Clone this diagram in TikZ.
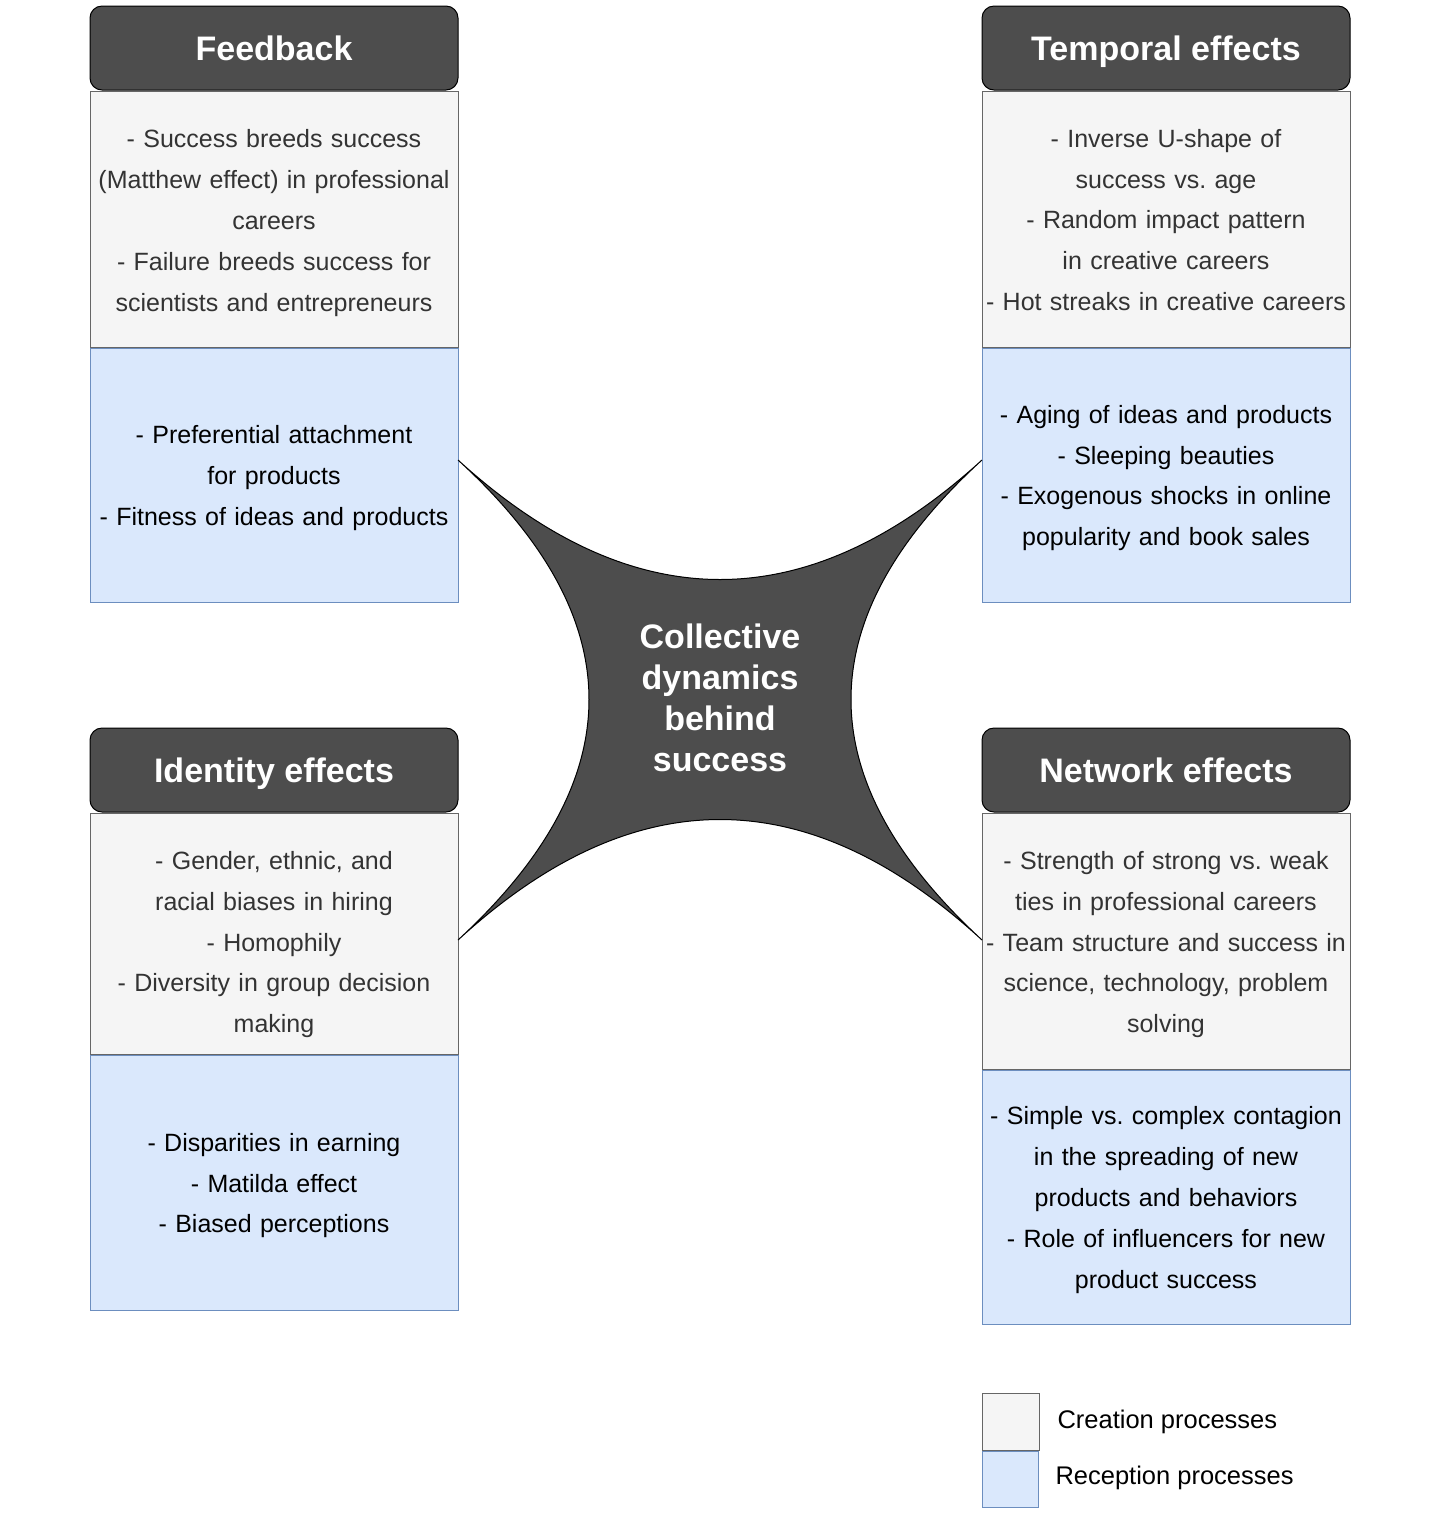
\documentclass[tikz,border=0pt]{standalone}
\usepackage{fontspec}
\setmainfont{Liberation Sans}
\usepackage{tikz}
\usetikzlibrary{positioning, calc}
\frenchspacing
\definecolor{headgrey}{HTML}{4D4D4D}
\definecolor{creafill}{HTML}{F5F5F5}
\definecolor{creaedge}{HTML}{666666}
\definecolor{creatext}{HTML}{333333}
\definecolor{recfill}{HTML}{DAE8FC}
\definecolor{recedge}{HTML}{6C8EBF}
\tikzset{
    headbox/.style={
        rectangle,
        rounded corners=6pt,
        draw=black,
        fill=headgrey,
        text=white,
        minimum width=184pt,
        minimum height=42pt,
        inner sep=0pt,
        text height=12.2pt,
        text depth=0pt,
        font=\fontsize{17}{20}\selectfont\bfseries
    },
    creabox/.style={
        rectangle,
        draw=creaedge,
        fill=creafill,
        text=creatext,
        text width=184pt,
        minimum width=184pt,
        inner sep=0pt,
        align=center,
        font=\fontsize{12.5}{20.4}\selectfont
    },
    recbox/.style={
        creabox,
        draw=recedge,
        fill=recfill,
        text=black,
        lowered=12.1pt
    },
    lowered/.style={
        execute at begin node={\rule{0pt}{#1}}
    },
    legtext/.style={
        anchor=west,
        inner sep=0pt,
        font=\fontsize{12.75}{15}\selectfont
    }
}

\begin{document}
\begin{tikzpicture}[x=0.5pt, y=-0.5pt, line width=0.5pt]
        \useasboundingbox (0,0) rectangle (1441,1528);

        % Feedback
        \node[headbox] (fbhead) at (274,48) {Feedback};
        \node[creabox, minimum height=128pt, below=0pt of fbhead, lowered=13.1pt] (fbcrea) {- Success breeds success\\(Matthew effect) in professional\\careers\\- Failure breeds success for\\scientists and entrepreneurs};
        \node[recbox, minimum height=127pt, below=0pt of fbcrea] (fbrec) {- Preferential attachment\\for products\\- Fitness of ideas and products};

        % Temporal effects
        \node[headbox] (tmhead) at (1166,48) {Temporal effects};
        \node[creabox, minimum height=128pt, below=0pt of tmhead, lowered=10.1pt] (tmcrea) {- Inverse U-shape of\\success vs. age\\- Random impact pattern\\in creative careers\\- Hot streaks in creative careers};
        \node[recbox, minimum height=127pt, below=0pt of tmcrea] (tmrec) {- Aging of ideas and products\\- Sleeping beauties\\- Exogenous shocks in online\\popularity and book sales};

        % Identity effects
        \node[headbox] (idhead) at (274,770) {Identity effects};
        \node[creabox, minimum height=120.5pt, below=0pt of idhead, lowered=20.1pt] (idcrea) {- Gender, ethnic, and\\racial biases in hiring\\- Homophily\\- Diversity in group decision\\making};
        \node[recbox, minimum height=127.5pt, below=0pt of idcrea] (idrec) {- Disparities in earning\\- Matilda effect\\- Biased perceptions};

        % Network effects
        \node[headbox] (nwhead) at (1166,770) {Network effects};
        \node[creabox, minimum height=128pt, below=0pt of nwhead, lowered=12.6pt] (nwcrea) {- Strength of strong vs. weak\\ties in professional careers\\- Team structure and success in\\science, technology, problem\\solving};
        \node[recbox, minimum height=127pt, below=0pt of nwcrea] (nwrec) {- Simple vs. complex contagion\\in the spreading of new\\products and behaviors\\- Role of influencers for new\\product success};

        % Centre
        \coordinate (tl) at (458,460);
        \coordinate (tr) at (982,460);
        \coordinate (bl) at (458,940);
        \coordinate (br) at (982,940);
        \coordinate (mid) at (720,699);
        \draw[fill=headgrey] (tl) .. controls ($(tl)!2/3!(mid)$) and ($(tr)!2/3!(mid)$) .. (tr)
            .. controls ($(tr)!2/3!(mid)$) and ($(br)!2/3!(mid)$) .. (br)
            .. controls ($(br)!2/3!(mid)$) and ($(bl)!2/3!(mid)$) .. (bl)
            .. controls ($(bl)!2/3!(mid)$) and ($(tl)!2/3!(mid)$) .. (tl) -- cycle;
        \node[text=white, align=center, font=\fontsize{17}{20.5}\selectfont\bfseries] (centre) at (720,698) {Collective\\dynamics\\behind\\success};

        % Legend
        \node[rectangle, draw=creaedge, fill=creafill, minimum size=28.5pt, inner sep=0pt] (legcrea) at (1010.5,1421.5) {};
        \node[rectangle, draw=recedge, fill=recfill, minimum size=28pt, inner sep=0pt, below=0pt of legcrea] (legrec) {};
        \node[legtext] (legcreatext) at (1057,1422) {Creation processes};
        \node[legtext] (legrectext) at (1055,1478) {Reception processes};
    \end{tikzpicture}
\end{document}
